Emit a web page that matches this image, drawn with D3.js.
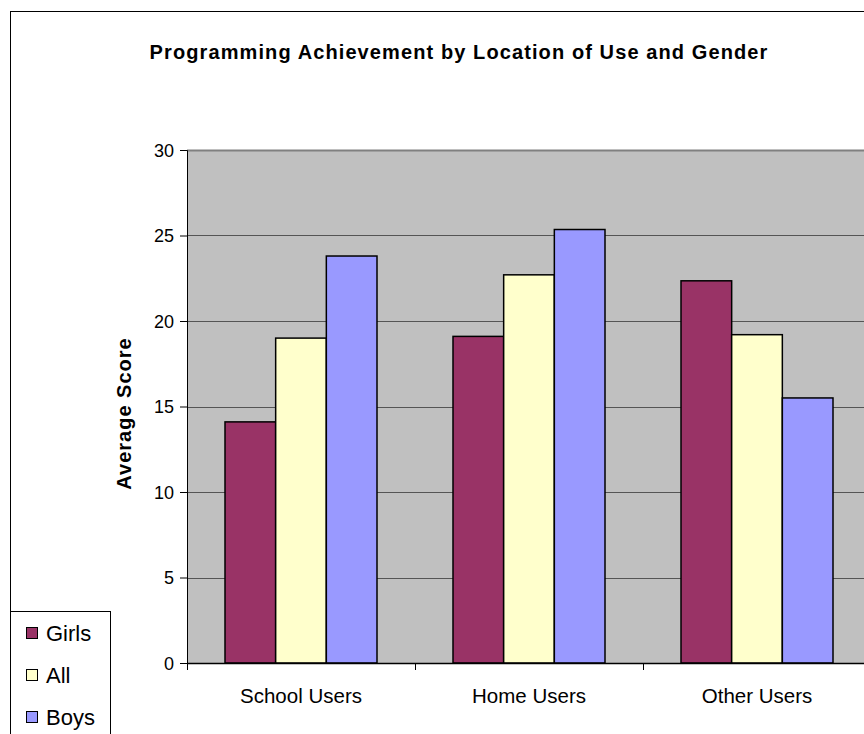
<!DOCTYPE html>
<html>
<head>
<meta charset="utf-8">
<script src="https://cdn.jsdelivr.net/npm/d3@7"></script>
<style>
  body { margin: 0; background: #fff; }
  text { font-family: Arial, "Liberation Sans", sans-serif; fill: #000; }
</style>
</head>
<body>
<svg id="chart" width="864" height="734"></svg>
<script>
const categories = ['School Users', 'Home Users', 'Other Users']
const series = ['Girls', 'All', 'Boys']
const girls = [14.1, 19.1, 22.35]
const all = [19.0, 22.7, 19.2]
const boys = [23.8, 25.35, 15.5]
const yTicks = [0, 5, 10, 15, 20, 25, 30]
const colors = ['#993366', '#FFFFCC', '#9999FF']

const values = { Girls: girls, All: all, Boys: boys }

const svg = d3.select('#chart')
const plot = { left: 187, top: 150, bottom: 663, right: 871 }

// outer chart border
svg.append('rect')
  .attr('x', 10.5).attr('y', 11.5)
  .attr('width', 900).attr('height', 800)
  .attr('fill', '#fff').attr('stroke', '#000').attr('stroke-width', 1)

const x0 = d3.scaleBand().domain(categories).range([plot.left, plot.right]).padding(0)
const x1 = d3.scaleBand().domain(series).range([0, x0.bandwidth()]).paddingInner(0).paddingOuter(0.75)
const y = d3.scaleLinear().domain([0, 30]).range([plot.bottom, plot.top])
const color = d3.scaleOrdinal().domain(series).range(colors)

// plot background
svg.append('rect')
  .attr('x', plot.left).attr('y', plot.top)
  .attr('width', plot.right - plot.left).attr('height', plot.bottom - plot.top)
  .attr('fill', '#C0C0C0')

// gridlines
svg.append('g').selectAll('line')
  .data(yTicks.filter(t => t > 0))
  .join('line')
  .attr('x1', plot.left).attr('x2', plot.right)
  .attr('y1', d => Math.round(y(d)) + 0.5).attr('y2', d => Math.round(y(d)) + 0.5)
  .attr('stroke', d => d === 30 ? '#808080' : '#555')
  .attr('stroke-width', d => d === 30 ? 2 : 1)

// bars
const groups = svg.append('g').selectAll('g')
  .data(categories)
  .join('g')
  .attr('transform', d => `translate(${x0(d)},0)`)

groups.selectAll('rect')
  .data((c, i) => series.map(s => ({ key: s, value: values[s][i] })))
  .join('rect')
  .attr('x', d => x1(d.key))
  .attr('y', d => y(d.value))
  .attr('width', x1.bandwidth())
  .attr('height', d => y(0) - y(d.value))
  .attr('fill', d => color(d.key))
  .attr('stroke', '#000')
  .attr('stroke-width', 1.5)

// y axis
const yAxis = svg.append('g')
  .attr('transform', `translate(${plot.left},0)`)
  .call(d3.axisLeft(y).tickValues(yTicks).tickSize(7).tickPadding(6))
yAxis.select('.domain').attr('stroke', '#000')
yAxis.selectAll('.tick line').attr('stroke', '#000')
yAxis.selectAll('text').style('font-size', '18px').attr('dy', '0.35em')

// x axis
const xAxis = svg.append('g')
  .attr('transform', `translate(0,${plot.bottom})`)
  .call(d3.axisBottom(x0).tickSize(0).tickPadding(25))
xAxis.select('.domain').attr('stroke', '#000').attr('stroke-width', 1.5)
xAxis.selectAll('text').style('font-size', '20.5px')
svg.append('g').selectAll('line')
  .data(categories)
  .join('line')
  .attr('x1', d => x0(d) + 0.5).attr('x2', d => x0(d) + 0.5)
  .attr('y1', plot.bottom).attr('y2', plot.bottom + 7)
  .attr('stroke', '#000')

// title
svg.append('text')
  .attr('x', 459).attr('y', 59)
  .attr('text-anchor', 'middle')
  .style('font-size', '20px').style('font-weight', 'bold').style('letter-spacing', '1.1px')
  .text('Programming Achievement by Location of Use and Gender')

// y axis title
svg.append('text')
  .attr('transform', `translate(131,${(plot.top + plot.bottom) / 2 + 7}) rotate(-90)`)
  .attr('text-anchor', 'middle')
  .style('font-size', '20px').style('font-weight', 'bold').style('letter-spacing', '1px')
  .text('Average Score')

// legend
svg.append('rect')
  .attr('x', 10.5).attr('y', 611.5)
  .attr('width', 100).attr('height', 150)
  .attr('fill', '#fff').attr('stroke', '#000')
const item = svg.append('g').selectAll('g')
  .data(series)
  .join('g')
  .attr('transform', (d, i) => `translate(26,${633 + i * 42})`)
item.append('rect')
  .attr('x', 0.5).attr('y', -5.5)
  .attr('width', 11).attr('height', 11)
  .attr('fill', d => color(d)).attr('stroke', '#000')
item.append('text')
  .attr('x', 20).attr('y', 0).attr('dy', '0.35em')
  .style('font-size', '22px')
  .text(d => d)
</script>
</body>
</html>
